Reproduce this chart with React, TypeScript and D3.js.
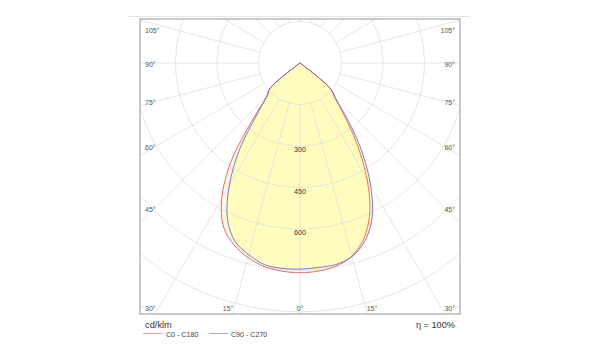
import React from "react";
import * as d3 from "d3";

const ANGLES = [0, 5, 10, 15, 20, 25, 30, 35, 40, 45, 50, 55, 60, 75, 90, 180];
const C0 = [755, 755, 746, 723, 675, 597, 485, 360, 250, 180, 140, 4, 2, 2, 1, 0];
const C180 = [758, 755, 747, 728, 699, 654, 566, 435, 264, 168, 140, 4, 2, 2, 1, 0];
const C90 = [743, 742, 740, 725, 685, 617, 510, 390, 270, 182, 147, 4, 2, 2, 1, 0];
const C270 = [745, 745, 740, 717, 686, 621, 511, 380, 240, 170, 141, 4, 2, 2, 1, 0];

const RINGS = [150, 300, 450, 600, 750, 900, 1050, 1200];
const RING_LABELS = [300, 450, 600];
const SIDE_ANGLES = [30, 45, 60, 75, 90, 105];
const BOTTOM_ANGLES = [0, 15];
const SPOKES = d3.range(0, 360, 15);
const LEGEND = ["C0 - C180", "C90 - C270"];
const UNIT = "cd/klm";
const EFF = "η = 100%";

const W = 600, H = 360;
const FX0 = 140, FX1 = 460, FY0 = 19, FY1 = 314;
const CX = 300, CY = 63;
const r = d3.scaleLinear().domain([0, 150]).range([0, 41.5]);

const RED = "#e2605a";
const BLUE = "#6a6ad2";
const RED_LEG = "#f3a6a3";
const BLUE_LEG = "#aaaaec";
const YELLOW = "#fffcbe";
const CREAM = "#fbf6dc";
const GRID = "#dedede";
const FONT = "'Liberation Sans', Arial, sans-serif";

function curvePath(right: number[], left: number[]) {
  const pts: [number, number][] = [];
  for (let i = ANGLES.length - 1; i >= 0; i--) {
    pts.push([Math.PI + (ANGLES[i] * Math.PI) / 180, r(left[i])]);
  }
  for (let i = 1; i < ANGLES.length; i++) {
    pts.push([Math.PI - (ANGLES[i] * Math.PI) / 180, r(right[i])]);
  }
  const line = d3
    .lineRadial<[number, number]>()
    .angle((d) => d[0])
    .radius((d) => d[1])
    .curve(d3.curveCatmullRom.alpha(0.5));
  return line(pts) + "Z";
}

export default function App() {
  const redPath = curvePath(C0, C180);
  const bluePath = curvePath(C90, C270);
  const rIn = r(150);
  const rOut = 420;
  const fs = 7;

  return (
    <svg
      width={W}
      height={H}
      style={{ position: "absolute", left: 0, top: 0, background: "#fff" }}
      fontFamily={FONT}
    >
      <defs>
        <clipPath id="frame">
          <rect x={FX0} y={FY0} width={FX1 - FX0} height={FY1 - FY0} />
        </clipPath>
      </defs>
      <line x1={128} x2={470} y1={16.5} y2={16.5} stroke="#e6e6e6" strokeWidth={1} />
      <g clipPath="url(#frame)">
        <g transform={`translate(${CX},${CY})`}>
          <path d={redPath} fill={CREAM} stroke="none" />
          <path d={bluePath} fill={YELLOW} stroke="none" />
          {RINGS.map((v) => (
            <circle key={v} r={r(v)} fill="none" stroke={GRID} strokeWidth={0.8} />
          ))}
          {SPOKES.map((a) => {
            const t = (a * Math.PI) / 180;
            const sx = Math.sin(t), sy = Math.cos(t);
            return (
              <line
                key={a}
                x1={sx * rIn}
                y1={sy * rIn}
                x2={sx * rOut}
                y2={sy * rOut}
                stroke={GRID}
                strokeWidth={0.8}
              />
            );
          })}
          <path d={redPath} fill="none" stroke={RED} strokeWidth={0.9} />
          <path d={bluePath} fill="none" stroke={BLUE} strokeWidth={0.9} />
          {RING_LABELS.map((v) => (
            <text
              key={v}
              x={0}
              y={r(v) + 3.5}
              textAnchor="middle"
              dominantBaseline="central"
              fontSize={7.2}
              fill="#333"
            >
              {v}
            </text>
          ))}
        </g>
        {SIDE_ANGLES.map((a) => {
          const t = (a * Math.PI) / 180;
          const yRay = CY + 150 / Math.tan(t);
          const off = ((a - 90) / 45) * 5 + 1;
          const y = Math.max(30, Math.min(308, yRay + off));
          return (
            <g key={a}>
              <text x={145} y={y} dominantBaseline="central" fontSize={fs} fill="#555">
                {a}°
              </text>
              <text x={455} y={y} textAnchor="end" dominantBaseline="central" fontSize={fs} fill="#555">
                {a}°
              </text>
            </g>
          );
        })}
        {BOTTOM_ANGLES.map((a) => {
          const t = (a * Math.PI) / 180;
          const dx = 245 * Math.tan(t);
          if (a === 0)
            return (
              <text key={a} x={CX} y={308} textAnchor="middle" dominantBaseline="central" fontSize={fs} fill="#555">
                {a}°
              </text>
            );
          return (
            <g key={a}>
              <text x={CX - dx - 1} y={308} textAnchor="end" dominantBaseline="central" fontSize={fs} fill="#555">
                {a}°
              </text>
              <text x={CX + dx + 1} y={308} dominantBaseline="central" fontSize={fs} fill="#555">
                {a}°
              </text>
            </g>
          );
        })}
      </g>
      <rect
        x={FX0}
        y={FY0}
        width={FX1 - FX0}
        height={FY1 - FY0}
        fill="none"
        stroke="#a6a6a6"
        strokeWidth={1.2}
      />
      <text x={145} y={328} fontSize={9.3} fill="#333">
        {UNIT}
      </text>
      <text x={455} y={328} textAnchor="end" fontSize={9.2} fill="#333">
        {EFF}
      </text>
      <line x1={143} x2={163} y1={333.5} y2={333.5} stroke={RED_LEG} strokeWidth={1} />
      <text x={166} y={336.5} fontSize={7.1} fill="#444">
        {LEGEND[0]}
      </text>
      <line x1={209} x2={228} y1={333.5} y2={333.5} stroke={BLUE_LEG} strokeWidth={1} />
      <text x={231} y={336.5} fontSize={7.1} fill="#444">
        {LEGEND[1]}
      </text>
    </svg>
  );
}
